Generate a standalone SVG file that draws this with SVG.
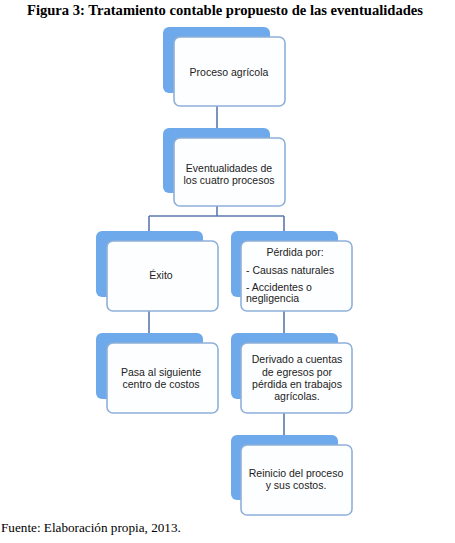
<svg xmlns="http://www.w3.org/2000/svg" width="455" height="543" viewBox="0 0 455 543">
<style>
.back{fill:#6eaaeb;}
.front{fill:#fdfeff;stroke:#8fb0d9;stroke-width:1.6;}
.t{font-family:"Liberation Sans",Arial,sans-serif;font-size:10.5px;fill:#222222;}
.c{text-anchor:middle;}
.conn{stroke:#5b79ad;stroke-width:1.6;fill:none;}
</style>
<rect width="455" height="543" fill="#ffffff"/>
<text x="225" y="15" text-anchor="middle" style="font-family:'Liberation Serif','Times New Roman',serif;font-size:14.6px;font-weight:bold" fill="#000">Figura 3: Tratamiento contable propuesto de las eventualidades</text>
<g id="connectors">
<path class="conn" d="M217 106 V128"/>
<path class="conn" d="M217 206 V216 M149 216 H284 M149 216 V231 M284 216 V231"/>
<path class="conn" d="M149 311 V333"/>
<path class="conn" d="M284 311 V333"/>
<path class="conn" d="M284 413 V435"/>
</g>
<g id="n1">
<rect class="back" x="163" y="27" width="107" height="66" rx="6"/>
<rect class="front" x="174" y="37" width="111" height="69" rx="6"/>
<text class="t c" x="229" y="76">Proceso agrícola</text>
</g>
<g id="n2">
<rect class="back" x="163" y="128" width="107" height="65" rx="6"/>
<rect class="front" x="174" y="138" width="111" height="68" rx="6"/>
<text class="t c" x="229" y="172">Eventualidades de</text>
<text class="t c" x="229" y="184">los cuatro procesos</text>
</g>
<g id="n3">
<rect class="back" x="96" y="231" width="107" height="66" rx="6"/>
<rect class="front" x="107" y="241" width="111" height="70" rx="6"/>
<text class="t c" x="161" y="279">Éxito</text>
</g>
<g id="n4">
<rect class="back" x="231" y="231" width="107" height="66" rx="6"/>
<rect class="front" x="241" y="241" width="111" height="70" rx="6"/>
<text class="t c" x="295" y="256">Pérdida por:</text>
<text class="t" x="246" y="274">- Causas naturales</text>
<text class="t" x="246" y="291">- Accidentes o</text>
<text class="t" x="246" y="302">negligencia</text>
</g>
<g id="n5">
<rect class="back" x="96" y="333" width="107" height="66" rx="6"/>
<rect class="front" x="107" y="343" width="111" height="70" rx="6"/>
<text class="t c" x="161" y="376">Pasa al siguiente</text>
<text class="t c" x="161" y="388">centro de costos</text>
</g>
<g id="n6">
<rect class="back" x="231" y="333" width="107" height="66" rx="6"/>
<rect class="front" x="241" y="343" width="111" height="70" rx="6"/>
<text class="t c" x="297" y="363">Derivado a cuentas</text>
<text class="t c" x="297" y="376">de egresos por</text>
<text class="t c" x="297" y="388">pérdida en trabajos</text>
<text class="t c" x="297" y="400">agrícolas.</text>
</g>
<g id="n7">
<rect class="back" x="231" y="435" width="107" height="65" rx="6"/>
<rect class="front" x="241" y="445" width="111" height="70" rx="6"/>
<text class="t c" x="296" y="477">Reinicio del proceso</text>
<text class="t c" x="296" y="489">y sus costos.</text>
</g>
<text x="1" y="532" style="font-family:'Liberation Serif','Times New Roman',serif;font-size:13.2px" fill="#000">Fuente: Elaboración propia, 2013.</text>
</svg>
